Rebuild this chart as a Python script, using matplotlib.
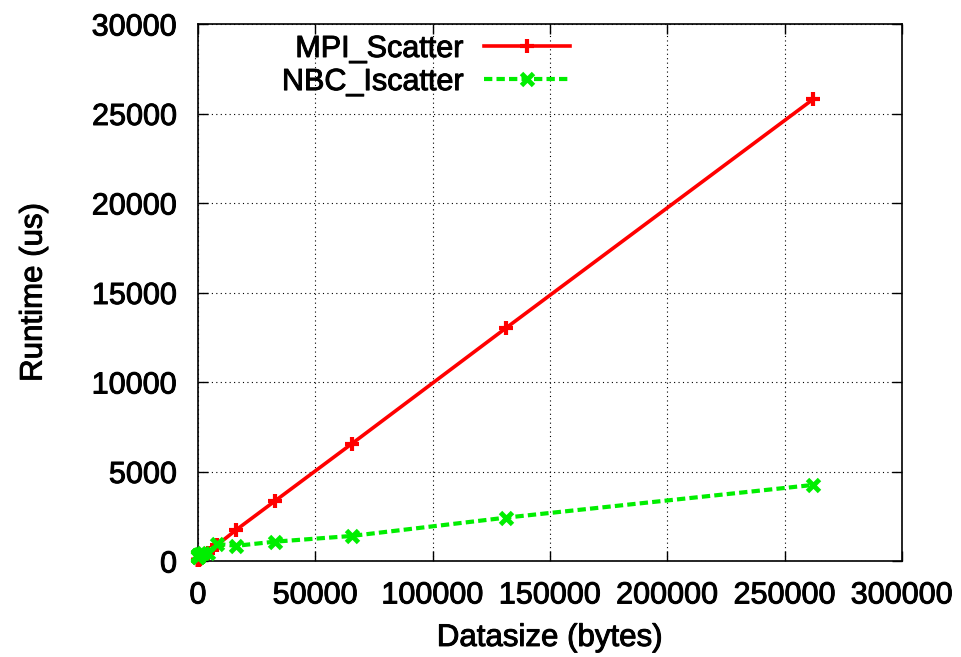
import matplotlib
matplotlib.use("Agg")
import matplotlib.pyplot as plt
import matplotlib.patheffects as pe

plt.rcParams['font.family'] = ['Liberation Sans', 'DejaVu Sans']

sizes = [1, 2, 4, 8, 16, 32, 64, 128, 256, 512, 1024, 2048,
         4096, 8192, 16384, 32768, 65536, 131072, 262144]
mpi_scatter = [30, 30, 30, 35, 35, 40, 45, 50, 60, 80, 120, 200,
               450, 900, 1750, 3350, 6550, 13000, 25800]
nbc_iscatter = [200, 220, 250, 280, 300, 310, 320, 330, 340, 350, 380, 420,
                450, 950, 850, 1080, 1400, 2420, 4250]

heavy = [pe.withStroke(linewidth=0.7, foreground='black')]

fig = plt.figure(figsize=(9.61, 6.57), dpi=100)
ax = fig.add_axes([198/961, 1-561/657, 704/961, 537/657])

ax.plot(sizes, mpi_scatter, color='#ff0000', lw=2.6, marker='+',
        ms=10, mew=3, label='MPI_Scatter', clip_on=False, zorder=3)
ax.plot(sizes, nbc_iscatter, color='#00ee00', lw=3, dashes=(2, 1),
        marker='x', ms=9, mew=3.5, label='NBC_Iscatter', clip_on=False, zorder=4)

ax.set_xlim(0, 300000)
ax.set_ylim(0, 30000)
ax.set_xticks(range(0, 300001, 50000))
ax.set_yticks(range(0, 30001, 5000))
ax.grid(True, color='black', linestyle=(0, (1, 3)), linewidth=0.8)
ax.tick_params(direction='in', length=7, width=1, top=True, right=True,
               labelsize=22)
ax.tick_params(axis='y', pad=15)
ax.tick_params(axis='x', pad=14)
for s in ax.spines.values():
    s.set_linewidth(1.2)

ax.set_xlabel('Datasize (bytes)', fontsize=22.5, labelpad=9, path_effects=heavy)
ax.set_ylabel('Runtime (us)', fontsize=22.5, labelpad=31, path_effects=heavy)
for t in ax.get_xticklabels() + ax.get_yticklabels():
    t.set_path_effects(heavy)

leg = ax.legend(loc='upper right', bbox_to_anchor=(570/961, 1-34/657),
                bbox_transform=fig.transFigure, frameon=False, markerfirst=False,
                fontsize=22, handlelength=2.8, handletextpad=0.7, labelspacing=0.1,
                borderpad=0, borderaxespad=0, numpoints=1)
for t in leg.get_texts():
    t.set_path_effects(heavy)

fig.savefig('out.png', dpi=100)
